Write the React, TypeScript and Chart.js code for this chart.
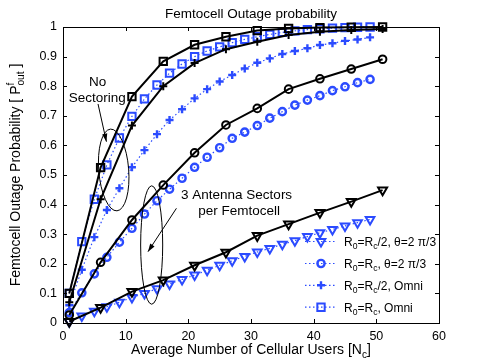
import React, { useEffect, useRef } from 'react';
import { Chart, registerables } from 'chart.js';
import { drawPoint } from 'chart.js/helpers';

Chart.register(...registerables);

const FONT = '"Liberation Sans", Arial, Helvetica, sans-serif';
const BLUE = '#2b4bff';

// x positions
const xBlack = [1, 6, 11, 16, 21, 26, 31, 36, 41, 46, 51];
const xBlue = [1, 3, 5, 7, 9, 11, 13, 15, 17, 19, 21, 23, 25, 27, 29, 31, 33, 35, 37, 39, 41, 43, 45, 47, 49];

// black solid series
const blackRcOmni = [0.1, 0.525, 0.765, 0.884, 0.94, 0.967, 0.988, 0.995, 0.998, 0.999, 1.0];
const blackHalfOmni = [0.07, 0.418, 0.667, 0.8, 0.878, 0.925, 0.95, 0.973, 0.984, 0.99, 0.993];
const blackRcSector = [0.027, 0.205, 0.348, 0.466, 0.575, 0.669, 0.725, 0.79, 0.825, 0.858, 0.891];
const blackHalfSector = [0.005, 0.052, 0.106, 0.145, 0.195, 0.239, 0.295, 0.334, 0.373, 0.41, 0.449];

// blue dotted series
const blueHalfSector = [0.005, 0.024, 0.04, 0.055, 0.07, 0.086, 0.1, 0.116, 0.132, 0.147, 0.162, 0.178, 0.195, 0.21, 0.225, 0.24, 0.252, 0.266, 0.278, 0.292, 0.305, 0.316, 0.328, 0.339, 0.35];
const blueRcSector = [0.035, 0.102, 0.166, 0.222, 0.273, 0.32, 0.368, 0.413, 0.452, 0.489, 0.526, 0.56, 0.592, 0.624, 0.645, 0.667, 0.692, 0.714, 0.736, 0.753, 0.768, 0.785, 0.798, 0.812, 0.823];
const blueHalfOmni = [0.06, 0.18, 0.29, 0.382, 0.455, 0.526, 0.584, 0.638, 0.686, 0.722, 0.759, 0.79, 0.816, 0.838, 0.86, 0.879, 0.894, 0.909, 0.919, 0.928, 0.939, 0.945, 0.953, 0.958, 0.965];
const blueRcOmni = [0.1, 0.275, 0.418, 0.534, 0.625, 0.698, 0.757, 0.804, 0.844, 0.875, 0.9, 0.919, 0.933, 0.947, 0.958, 0.967, 0.975, 0.982, 0.987, 0.991, 0.994, 0.996, 0.998, 0.999, 1.0];

// ticks
const xTickValues = [0, 10, 20, 30, 40, 50, 60];
const xTickLabels = ['0', '10', '20', '30', '40', '50', '60'];
const yTickValues = [0, 0.1, 0.2, 0.3, 0.4, 0.5, 0.6, 0.7, 0.8, 0.9, 1];
const yTickLabels = ['0', '0.1', '0.2', '0.3', '0.4', '0.5', '0.6', '0.7', '0.8', '0.9', '1'];

const titleText = 'Femtocell Outage probability';
type Seg = string | { sup?: string; sub?: string };
const xLabel: Seg[] = ['Average Number of Cellular Users [N', { sub: 'c' }, ']'];
const yLabel: Seg[] = ['Femtocell Outage Probability [ P', { sup: 'f', sub: 'out' }, ' ]'];
const legendLabels: Seg[][] = [
  ['R', { sub: '0' }, '=R', { sub: 'c' }, '/2, θ=2 π/3'],
  ['R', { sub: '0' }, '=R', { sub: 'c' }, ', θ=2 π/3'],
  ['R', { sub: '0' }, '=R', { sub: 'c' }, '/2, Omni'],
  ['R', { sub: '0' }, '=R', { sub: 'c' }, ', Omni'],
];

// annotations (data coordinates)
const noteTexts = [
  { text: 'No', x: 5.54, y: 0.814 },
  { text: 'Sectoring', x: 5.46, y: 0.76 },
  { text: '3 Antenna Sectors', x: 27.7, y: 0.432 },
  { text: 'per Femtocell', x: 28.1, y: 0.378 },
];
const noteEllipses = [
  { x: 8.09, y: 0.517, rx: 2.39, ry: 0.1385, rot: -0.08 },
  { x: 14.15, y: 0.2635, rx: 1.76, ry: 0.2, rot: 0 },
];
const noteArrows = [
  { x0: 5.59, y0: 0.74, x1: 6.93, y1: 0.6125 },
  { x0: 18.1, y0: 0.3875, x1: 13.56, y1: 0.241 },
];

const font = (s: number) => `${s}px ${FONT}`;

function richWidth(ctx: CanvasRenderingContext2D, segs: Seg[], size: number) {
  let w = 0;
  for (const s of segs) {
    if (typeof s === 'string') {
      ctx.font = font(size);
      w += ctx.measureText(s).width;
    } else {
      ctx.font = font(size * 0.72);
      const a = s.sup ? ctx.measureText(s.sup).width : 0;
      const b = s.sub ? ctx.measureText(s.sub).width : 0;
      w += Math.max(a, b);
    }
  }
  return w;
}

function drawRich(ctx: CanvasRenderingContext2D, segs: Seg[], x: number, y: number, size: number, align: 'left' | 'center') {
  const w = richWidth(ctx, segs, size);
  let cx = align === 'center' ? x - w / 2 : x;
  ctx.textAlign = 'left';
  ctx.textBaseline = 'alphabetic';
  for (const s of segs) {
    if (typeof s === 'string') {
      ctx.font = font(size);
      ctx.fillText(s, cx, y);
      cx += ctx.measureText(s).width;
    } else {
      ctx.font = font(size * 0.72);
      let a = 0, b = 0;
      if (s.sup) { ctx.fillText(s.sup, cx, y - size * 0.42); a = ctx.measureText(s.sup).width; }
      if (s.sub) { ctx.fillText(s.sub, cx, y + size * 0.3); b = ctx.measureText(s.sub).width; }
      cx += Math.max(a, b);
    }
  }
}

type LineCfg = { width: number; dash: number[] };
function makeSet(label: string, xs: number[], ys: number[], color: string, style: string, radius: number, bw: number, rot: number, line: LineCfg, order: number) {
  return {
    label,
    data: xs.map((x, i) => ({ x, y: ys[i] })),
    showLine: true,
    borderColor: color,
    backgroundColor: color,
    borderWidth: line.width,
    borderDash: line.dash,
    pointStyle: style,
    pointRadius: radius,
    pointHoverRadius: radius,
    pointBorderWidth: bw,
    pointBorderColor: color,
    pointBackgroundColor: 'rgba(0,0,0,0)',
    pointRotation: rot,
    tension: 0,
    clip: false,
    order,
  };
}

const solid: LineCfg = { width: 2, dash: [] };
const dotted: LineCfg = { width: 1.2, dash: [1.5, 2.5] };

const blueStyles = [
  { style: 'triangle', radius: 5, bw: 2, rot: 180 },
  { style: 'circle', radius: 3.6, bw: 2.4, rot: 0 },
  { style: 'cross', radius: 4, bw: 2.4, rot: 0 },
  { style: 'rect', radius: 5.2, bw: 2, rot: 0 },
];

const decorPlugin = {
  id: 'decor',
  afterDraw(chart: any) {
    const ctx: CanvasRenderingContext2D = chart.ctx;
    const { left, right, top, bottom } = chart.chartArea;
    const xs = chart.scales.x;
    const ys = chart.scales.y;
    ctx.save();
    ctx.fillStyle = '#000';
    ctx.strokeStyle = '#000';
    // box
    ctx.lineWidth = 1;
    ctx.strokeRect(Math.round(left) + 0.5, Math.round(top) + 0.5, Math.round(right - left), Math.round(bottom - top));
    // inward ticks
    const tl = 4;
    ctx.beginPath();
    for (const v of xTickValues) {
      const px = Math.round(xs.getPixelForValue(v)) + 0.5;
      ctx.moveTo(px, bottom); ctx.lineTo(px, bottom - tl);
      ctx.moveTo(px, top); ctx.lineTo(px, top + tl);
    }
    for (const v of yTickValues) {
      const py = Math.round(ys.getPixelForValue(v)) + 0.5;
      ctx.moveTo(left, py); ctx.lineTo(left + tl, py);
      ctx.moveTo(right, py); ctx.lineTo(right - tl, py);
    }
    ctx.stroke();
    // title
    ctx.font = font(13.5);
    ctx.textAlign = 'center';
    ctx.textBaseline = 'alphabetic';
    ctx.fillText(titleText, (left + right) / 2, 17.5);
    // x label
    drawRich(ctx, xLabel, (left + right) / 2, 354, 14, 'center');
    // y label
    ctx.save();
    ctx.translate(19.5, (top + bottom) / 2);
    ctx.rotate(-Math.PI / 2);
    drawRich(ctx, yLabel, 0, 0, 14, 'center');
    ctx.restore();
    // legend
    const lx0 = 305, lx1 = 336, mx = 321, tx = 344;
    const rowY = [241.5, 263.5, 285.3, 307.2];
    legendLabels.forEach((lab, i) => {
      const st = blueStyles[i];
      const y = rowY[i];
      ctx.save();
      ctx.strokeStyle = BLUE;
      ctx.lineWidth = dotted.width;
      ctx.setLineDash(dotted.dash);
      ctx.beginPath();
      ctx.moveTo(lx0, y); ctx.lineTo(lx1, y);
      ctx.stroke();
      ctx.setLineDash([]);
      ctx.fillStyle = 'rgba(0,0,0,0)';
      ctx.lineWidth = st.bw;
      drawPoint(ctx, { pointStyle: st.style as any, rotation: st.rot, radius: st.radius, borderWidth: st.bw }, mx, y);
      ctx.restore();
      ctx.fillStyle = '#000';
      drawRich(ctx, lab, tx, y + 4.3, 12, 'left');
    });
    // annotations
    ctx.font = font(13.5);
    ctx.textAlign = 'center';
    ctx.textBaseline = 'middle';
    for (const n of noteTexts) {
      ctx.fillText(n.text, xs.getPixelForValue(n.x), ys.getPixelForValue(n.y));
    }
    ctx.lineWidth = 1;
    for (const e of noteEllipses) {
      const cx = xs.getPixelForValue(e.x), cy = ys.getPixelForValue(e.y);
      const rx = Math.abs(xs.getPixelForValue(e.x + e.rx) - cx);
      const ry = Math.abs(ys.getPixelForValue(e.y + e.ry) - cy);
      ctx.beginPath();
      ctx.ellipse(cx, cy, rx, ry, e.rot, 0, Math.PI * 2);
      ctx.stroke();
    }
    for (const a of noteArrows) {
      const x0 = xs.getPixelForValue(a.x0), y0 = ys.getPixelForValue(a.y0);
      const x1 = xs.getPixelForValue(a.x1), y1 = ys.getPixelForValue(a.y1);
      const ang = Math.atan2(y1 - y0, x1 - x0);
      ctx.beginPath();
      ctx.moveTo(x0, y0); ctx.lineTo(x1, y1);
      ctx.stroke();
      const hl = 8, hw = 2.6;
      ctx.beginPath();
      ctx.moveTo(x1, y1);
      ctx.lineTo(x1 - hl * Math.cos(ang) + hw * Math.sin(ang), y1 - hl * Math.sin(ang) - hw * Math.cos(ang));
      ctx.lineTo(x1 - hl * Math.cos(ang) - hw * Math.sin(ang), y1 - hl * Math.sin(ang) + hw * Math.cos(ang));
      ctx.closePath();
      ctx.fill();
    }
    ctx.restore();
  },
};

export default function App() {
  const ref = useRef<HTMLCanvasElement>(null);
  useEffect(() => {
    const canvas = ref.current;
    if (!canvas) return;
    const datasets = [
      makeSet('Rc/2 sector (blue)', xBlue, blueHalfSector, BLUE, blueStyles[0].style, blueStyles[0].radius, blueStyles[0].bw, blueStyles[0].rot, dotted, 2),
      makeSet('Rc sector (blue)', xBlue, blueRcSector, BLUE, blueStyles[1].style, blueStyles[1].radius, blueStyles[1].bw, blueStyles[1].rot, dotted, 2),
      makeSet('Rc/2 omni (blue)', xBlue, blueHalfOmni, BLUE, blueStyles[2].style, blueStyles[2].radius, blueStyles[2].bw, blueStyles[2].rot, dotted, 2),
      makeSet('Rc omni (blue)', xBlue, blueRcOmni, BLUE, blueStyles[3].style, blueStyles[3].radius, blueStyles[3].bw, blueStyles[3].rot, dotted, 2),
      makeSet('Rc/2 sector', xBlack, blackHalfSector, '#000', 'triangle', 5.2, 2, 180, solid, 1),
      makeSet('Rc sector', xBlack, blackRcSector, '#000', 'circle', 3.8, 2, 0, solid, 1),
      makeSet('Rc/2 omni', xBlack, blackHalfOmni, '#000', 'cross', 4, 2, 0, solid, 1),
      makeSet('Rc omni', xBlack, blackRcOmni, '#000', 'rect', 5.2, 2, 0, solid, 1),
    ];
    const chart = new Chart(canvas, {
      type: 'scatter',
      data: { datasets: datasets as any },
      options: {
        animation: false,
        responsive: false,
        devicePixelRatio: 1,
        layout: { padding: { left: 0, right: 46, top: 27, bottom: 0 } },
        plugins: { legend: { display: false }, tooltip: { enabled: false }, title: { display: false } },
        events: [],
        scales: {
          x: {
            type: 'linear',
            min: 0,
            max: 60,
            grid: { display: false, drawTicks: false },
            border: { display: false },
            ticks: {
              padding: 6,
              color: '#000',
              font: { family: FONT, size: 12.5 },
              maxRotation: 0,
              autoSkip: false,
              callback: (v: any) => {
                const i = xTickValues.findIndex((t) => Math.abs(t - v) < 1e-9);
                return i >= 0 ? xTickLabels[i] : '';
              },
            },
            afterBuildTicks: (s: any) => { s.ticks = xTickValues.map((v) => ({ value: v })); },
            afterFit: (s: any) => { s.height = 41; },
          },
          y: {
            type: 'linear',
            min: 0,
            max: 1,
            grid: { display: false, drawTicks: false },
            border: { display: false },
            ticks: {
              padding: 6,
              color: '#000',
              font: { family: FONT, size: 12.5 },
              autoSkip: false,
              callback: (v: any) => {
                const i = yTickValues.findIndex((t) => Math.abs(t - v) < 1e-9);
                return i >= 0 ? yTickLabels[i] : '';
              },
            },
            afterBuildTicks: (s: any) => { s.ticks = yTickValues.map((v) => ({ value: v })); },
            afterFit: (s: any) => { s.width = 63; },
          },
        },
      },
      plugins: [decorPlugin],
    } as any);
    return () => chart.destroy();
  }, []);
  return (
    <div style={{ position: 'fixed', left: 0, top: 0, width: 485, height: 364, background: '#fff' }}>
      <canvas ref={ref} width={485} height={364} style={{ display: 'block', width: 485, height: 364 }} />
    </div>
  );
}
